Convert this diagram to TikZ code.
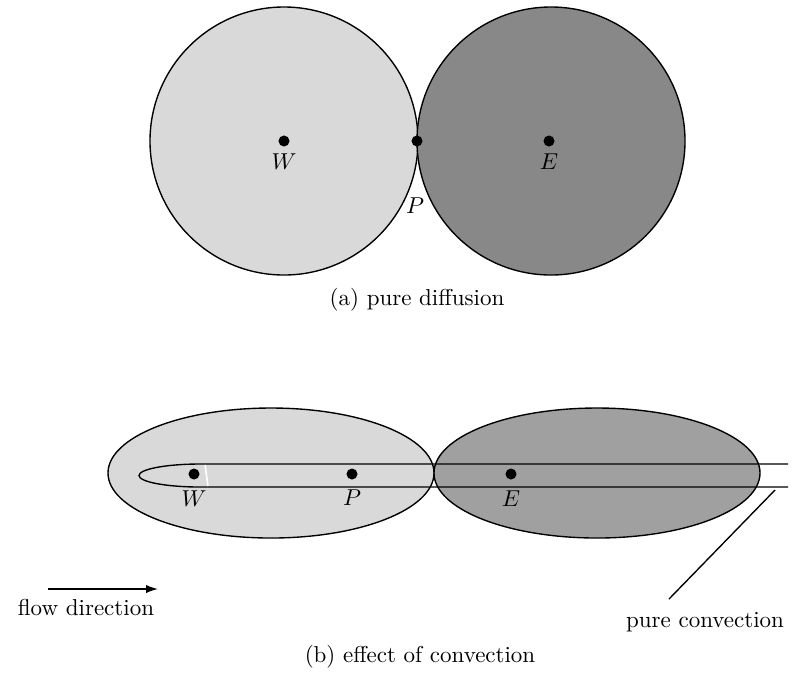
\documentclass[tikz,border=0pt]{standalone}
\usepackage{amsmath}
\usepackage{xcolor}
\usetikzlibrary{arrows.meta}
\definecolor{cellwest}{HTML}{D9D9D9}
\definecolor{celleast}{HTML}{888888}
\definecolor{celleastconv}{HTML}{A0A0A0}

\begin{document}
\begin{tikzpicture}[
  x=0.435pt,
  y=-0.435pt,
  every node/.style={font=\normalsize, black},
  cellline/.style={black, line width=0.6pt},
  channel/.style={black, line width=0.6pt},
  gridpt/.style={circle, fill=black, inner sep=0pt, minimum size=4.8pt},
  leader/.style={black, line width=0.6pt},
  flowarrow/.style={black, line width=0.6pt,
                    -{Latex[length=5.2pt, width=3.6pt]}}
]
  \useasboundingbox (0,0) rectangle (796,675);

  % ---- (a) pure diffusion: two touching circles ----
  \draw[cellline, fill=cellwest] (284,141) circle (134);
  \draw[cellline, fill=celleast] (551,141) circle (134);

  \node[gridpt] (Wa) at (284,141) {};
  \node[gridpt] (Pa) at (417,141) {};
  \node[gridpt] (Ea) at (549,141) {};
  \node (Walabel) at (284,162) {$W$};
  \node (Ealabel) at (549,162) {$E$};
  \node (Palabel) at (415,206) {$P$};

  \node (capa) at (417,300) {(a) pure diffusion};

  % ---- (b) effect of convection: stretched ellipses ----
  \draw[cellline, fill=cellwest] (271,473) ellipse [x radius=163, y radius=65];
  \draw[cellline, fill=celleastconv] (597,473) ellipse [x radius=163, y radius=65];

  % ---- the narrow convection band ----
  \draw[channel] (788,464) -- (200,464)
    arc[start angle=270, end angle=90, x radius=61, y radius=11.5]
    -- (788,487);
  \draw[white, line width=0.7pt] (205,465) -- (208,486);

  \node[gridpt] (Wb) at (194,474) {};
  \node[gridpt] (Pb) at (352,474) {};
  \node[gridpt] (Eb) at (511,474) {};
  \node (Wblabel) at (194,499) {$W$};
  \node (Pblabel) at (352,498) {$P$};
  \node (Eblabel) at (511,499) {$E$};

  % ---- leader to the band label ----
  \coordinate (bandend) at (775,490);
  \node (convlabel) at (705,622) {pure convection};
  \coordinate (leaderfoot) at (669,599);
  \draw[leader] (bandend) -- (leaderfoot);

  % ---- flow direction arrow ----
  \coordinate (flowstart) at (48,589);
  \coordinate (flowend) at (158,589);
  \draw[flowarrow] (flowstart) -- (flowend);
  \node (flowlabel) at (86,607) {flow direction};

  \node (capb) at (420,657) {(b) effect of convection};
\end{tikzpicture}
\end{document}
